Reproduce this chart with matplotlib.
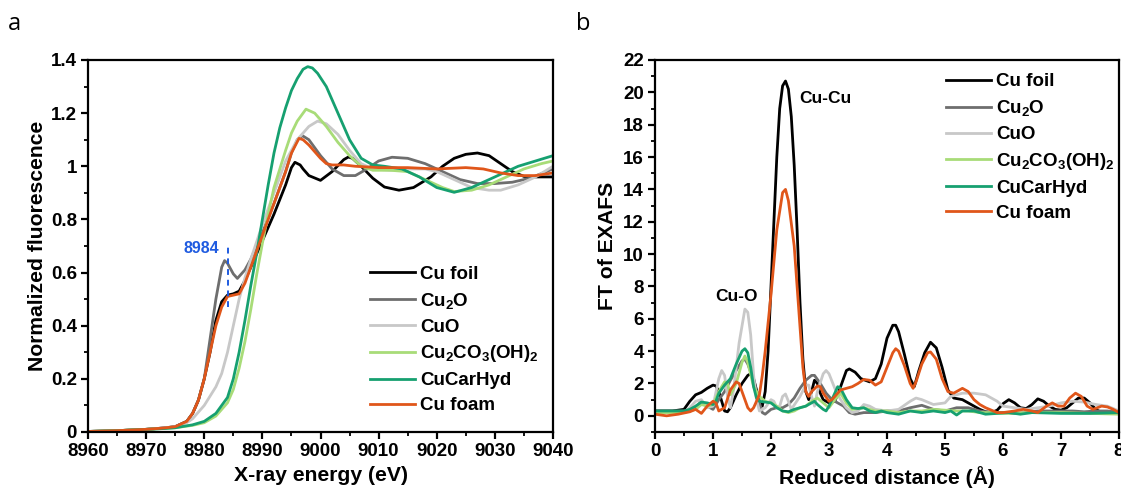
import matplotlib
matplotlib.use("Agg")
import matplotlib.pyplot as plt
from matplotlib.ticker import MultipleLocator, FuncFormatter

plt.rcParams["font.family"] = ["Liberation Sans", "DejaVu Sans"]
plt.rcParams["font.weight"] = "bold"
plt.rcParams["mathtext.fontset"] = "custom"
plt.rcParams["mathtext.rm"] = "Liberation Sans:bold"
plt.rcParams["mathtext.bf"] = "Liberation Sans:bold"
plt.rcParams["mathtext.it"] = "Liberation Sans:bold"
plt.rcParams["mathtext.default"] = "bf"

# ---------------- XANES (panel a) ----------------
series_names = ["Cu foil", "Cu$_2$O", "CuO", "Cu$_2$CO$_3$(OH)$_2$", "CuCarHyd", "Cu foam"]
series_colors = ["#000000", "#6e6e6e", "#c8c8c8", "#a8dc78", "#16a070", "#e0561a"]

foil_E = [8960, 8965, 8970, 8973, 8975, 8977, 8978, 8979, 8980, 8981, 8982, 8983, 8984, 8985,
          8986, 8987, 8988, 8990, 8992, 8994, 8995, 8995.6, 8996.5, 8997, 8998, 9000, 9002,
          9004, 9004.8, 9005.5, 9007, 9009, 9011, 9013.5, 9016, 9019, 9021, 9023, 9025,
          9027, 9029, 9031, 9033, 9035, 9037, 9040]
foil_mu = [0.002, 0.005, 0.01, 0.015, 0.02, 0.04, 0.07, 0.12, 0.2, 0.3, 0.42, 0.49, 0.515, 0.52,
           0.53, 0.57, 0.62, 0.72, 0.82, 0.93, 0.995, 1.015, 1.005, 0.99, 0.965, 0.947, 0.98,
           1.025, 1.035, 1.03, 1.0, 0.955, 0.922, 0.91, 0.92, 0.96, 1.0, 1.03, 1.045,
           1.05, 1.04, 1.01, 0.98, 0.962, 0.96, 0.96]

cu2o_E = [8960, 8965, 8970, 8973, 8975, 8977, 8978, 8979, 8980, 8981, 8982, 8983, 8983.5, 8984,
          8985, 8985.7, 8987, 8988, 8990, 8992, 8994, 8995, 8996, 8996.9, 8998, 9000, 9002,
          9004, 9006, 9008, 9010, 9012.3, 9015, 9018, 9021, 9024, 9027, 9030, 9033, 9036, 9040]
cu2o_mu = [0.002, 0.005, 0.01, 0.015, 0.02, 0.04, 0.07, 0.12, 0.2, 0.35, 0.5, 0.62, 0.645, 0.635,
           0.595, 0.578, 0.61, 0.65, 0.75, 0.86, 0.98, 1.05, 1.1, 1.115, 1.1, 1.04, 0.99,
           0.965, 0.965, 0.99, 1.02, 1.034, 1.03, 1.01, 0.98, 0.95, 0.935, 0.935, 0.94, 0.955, 0.99]

cuo_E = [8960, 8965, 8970, 8973, 8975, 8977, 8978, 8980, 8982, 8983, 8984, 8985, 8986, 8987,
         8988, 8990, 8992, 8994, 8996, 8998, 8999.5, 9001, 9003, 9005, 9007, 9009, 9012,
         9015, 9018, 9020, 9023, 9026, 9029, 9031, 9034, 9037, 9040]
cuo_mu = [0.002, 0.005, 0.01, 0.015, 0.02, 0.035, 0.05, 0.1, 0.17, 0.22, 0.3, 0.4, 0.5, 0.58,
          0.65, 0.78, 0.9, 1.02, 1.1, 1.15, 1.17, 1.16, 1.12, 1.06, 1.01, 0.99, 0.985,
          0.99, 0.99, 0.98, 0.95, 0.92, 0.91, 0.91, 0.93, 0.96, 1.0]

carb_E = [8960, 8965, 8970, 8973, 8975, 8978, 8980, 8982, 8984, 8985, 8986, 8987, 8988, 8989,
          8990, 8991, 8992, 8994, 8995, 8996, 8997.5, 8999, 9001, 9003, 9005, 9007, 9009, 9012,
          9015, 9018, 9021, 9023, 9026, 9029, 9032, 9035, 9038, 9040]
carb_mu = [0.002, 0.005, 0.01, 0.013, 0.016, 0.025, 0.035, 0.06, 0.11, 0.16, 0.24, 0.34, 0.46, 0.59,
           0.71, 0.82, 0.92, 1.06, 1.125, 1.17, 1.215, 1.2, 1.15, 1.09, 1.04, 1.0, 0.985, 0.985,
           0.98, 0.95, 0.92, 0.905, 0.91, 0.93, 0.96, 0.99, 1.01, 1.02]

hyd_E = [8960, 8965, 8970, 8973, 8975, 8978, 8980, 8982, 8984, 8985, 8986, 8987, 8988, 8989,
         8990, 8991, 8992, 8993, 8994, 8995, 8996, 8997, 8997.8, 8998.6, 8999.5, 9001, 9003,
         9005, 9007, 9009, 9011, 9014, 9017, 9020, 9023, 9026, 9030, 9034, 9037, 9040]
hyd_mu = [0.002, 0.005, 0.01, 0.013, 0.016, 0.027, 0.04, 0.07, 0.13, 0.2, 0.3, 0.42, 0.55, 0.67,
          0.8, 0.93, 1.05, 1.145, 1.22, 1.285, 1.33, 1.365, 1.375, 1.37, 1.35, 1.3, 1.2,
          1.1, 1.03, 1.005, 1.0, 0.99, 0.96, 0.92, 0.902, 0.92, 0.96, 1.0, 1.02, 1.04]

foam_E = [8960, 8965, 8970, 8973, 8975, 8977, 8978, 8979, 8980, 8981, 8982, 8983, 8984, 8985,
          8986, 8987, 8988, 8990, 8992, 8994, 8995, 8996.3, 8997, 8998, 9000, 9001, 9002, 9004,
          9006, 9010, 9015, 9020, 9025, 9028, 9031, 9034, 9037, 9040]
foam_mu = [0.002, 0.005, 0.01, 0.015, 0.02, 0.04, 0.07, 0.12, 0.2, 0.3, 0.4, 0.47, 0.51, 0.515,
           0.52, 0.56, 0.62, 0.74, 0.86, 0.98, 1.05, 1.105, 1.1, 1.08, 1.03, 1.01, 1.005, 1.005,
           1.0, 0.995, 0.995, 0.99, 0.995, 0.99, 0.975, 0.965, 0.965, 0.975]

xanes = [(foil_E, foil_mu), (cu2o_E, cu2o_mu), (cuo_E, cuo_mu),
         (carb_E, carb_mu), (hyd_E, hyd_mu), (foam_E, foam_mu)]

edge_energy = 8984

# ---------------- EXAFS FT (panel b) ----------------
foil_R = [0, 0.3, 0.5, 0.6, 0.7, 0.8, 0.9, 1.0, 1.05, 1.1, 1.15, 1.2, 1.25, 1.3, 1.4, 1.5, 1.6,
          1.65, 1.7, 1.75, 1.8, 1.85, 1.9, 1.95, 2.0, 2.05, 2.1, 2.15, 2.2, 2.25, 2.3, 2.35,
          2.4, 2.45, 2.5, 2.55, 2.6, 2.65, 2.7, 2.75, 2.8, 2.85, 2.9, 3.0, 3.1, 3.2, 3.3,
          3.35, 3.45, 3.55, 3.7, 3.8, 3.9, 4.0, 4.1, 4.15, 4.2, 4.3, 4.4, 4.47, 4.55, 4.65,
          4.75, 4.85, 4.95, 5.05, 5.15, 5.3, 5.4, 5.5, 5.6, 5.7, 5.8, 5.9, 6.0, 6.1, 6.2,
          6.3, 6.4, 6.5, 6.6, 6.7, 6.8, 6.9, 7.0, 7.1, 7.2, 7.3, 7.4, 7.5, 7.6, 7.7, 7.8, 8.0]
foil_ft = [0.3, 0.3, 0.4, 0.9, 1.3, 1.45, 1.7, 1.9, 1.85, 1.5, 0.9, 0.3, 0.25, 0.5, 1.3, 2.0, 2.5,
           2.6, 2.3, 1.6, 0.9, 0.6, 1.5, 4.0, 8.0, 12.0, 16.0, 19.0, 20.4, 20.7, 20.2, 18.5,
           15.5, 11.5, 7.0, 3.5, 1.5, 1.0, 1.5, 2.2, 2.0, 1.4, 1.0, 0.8, 0.9, 1.8, 2.8,
           2.9, 2.7, 2.3, 2.1, 2.3, 3.2, 4.8, 5.6, 5.6, 5.2, 3.8, 2.3, 1.8, 2.8, 3.9,
           4.55, 4.2, 3.0, 1.6, 1.1, 1.0, 0.8, 0.6, 0.4, 0.25, 0.2, 0.35, 0.75, 1.0, 0.8,
           0.5, 0.45, 0.7, 1.05, 0.9, 0.6, 0.4, 0.35, 0.5, 0.8, 1.1, 1.1, 0.8, 0.4, 0.2, 0.2, 0.3]

cu2o_R = [0, 0.5, 0.7, 0.8, 0.9, 1.0, 1.1, 1.2, 1.3, 1.4, 1.5, 1.55, 1.6, 1.7, 1.8, 1.85, 1.9,
          2.0, 2.1, 2.2, 2.3, 2.4, 2.5, 2.6, 2.7, 2.75, 2.85, 2.95, 3.05, 3.15, 3.25, 3.35,
          3.45, 3.6, 3.8, 4.0, 4.2, 4.4, 4.6, 4.8, 5.0, 5.2, 5.4, 5.6, 5.8, 6.0, 6.2, 6.4,
          6.6, 6.8, 7.0, 7.2, 7.4, 7.6, 7.8, 8.0]
cu2o_ft = [0.3, 0.3, 0.5, 0.9, 0.6, 0.4, 1.0, 1.5, 2.2, 2.8, 3.4, 3.5, 3.2, 2.2, 0.8, 0.2, 0.1,
           0.4, 0.5, 0.5, 0.7, 1.1, 1.7, 2.2, 2.5, 2.5, 2.0, 1.4, 1.0, 0.8, 0.6, 0.2,
           0.1, 0.2, 0.2, 0.3, 0.3, 0.5, 0.65, 0.4, 0.3, 0.5, 0.5, 0.3, 0.2, 0.2, 0.15, 0.2,
           0.3, 0.3, 0.3, 0.3, 0.25, 0.3, 0.3, 0.2]

cuo_R = [0, 0.5, 0.6, 0.7, 0.8, 0.9, 1.0, 1.1, 1.15, 1.2, 1.25, 1.3, 1.35, 1.45, 1.55, 1.6,
         1.65, 1.7, 1.75, 1.8, 1.9, 2.0, 2.05, 2.1, 2.15, 2.2, 2.25, 2.3, 2.35, 2.5, 2.6,
         2.65, 2.7, 2.75, 2.8, 2.9, 2.95, 3.0, 3.1, 3.2, 3.3, 3.4, 3.5, 3.6, 3.7, 3.8, 4.0,
         4.2, 4.4, 4.5, 4.6, 4.8, 5.0, 5.1, 5.3, 5.5, 5.7, 5.9, 6.0, 6.2, 6.4, 6.6, 6.8,
         7.0, 7.2, 7.4, 7.6, 7.8, 8.0]
cuo_ft = [0.2, 0.2, 0.5, 0.9, 1.0, 0.5, 0.6, 2.3, 2.8, 2.5, 1.2, 0.5, 1.5, 4.5, 6.6, 6.4,
          5.0, 2.5, 1.0, 0.3, 0.5, 1.0, 0.9, 0.5, 0.6, 1.2, 1.35, 0.9, 0.4, 1.2, 1.9,
          1.9, 1.2, 0.6, 1.5, 2.6, 2.8, 2.6, 1.7, 1.0, 0.5, 0.2, 0.3, 0.7, 0.6, 0.4, 0.3,
          0.4, 0.9, 1.1, 1.0, 0.7, 0.8, 1.2, 1.4, 1.4, 1.3, 0.9, 0.6, 0.5, 0.4, 0.5, 0.6,
          0.8, 0.9, 0.85, 0.7, 0.6, 0.3]

carb_R = [0, 0.5, 0.7, 0.8, 0.9, 1.0, 1.1, 1.2, 1.25, 1.3, 1.4, 1.5, 1.55, 1.6, 1.7, 1.8, 1.9,
          2.0, 2.1, 2.2, 2.3, 2.4, 2.5, 2.6, 2.7, 2.8, 2.9, 3.0, 3.1, 3.2, 3.3, 3.4, 3.6,
          3.8, 4.0, 4.2, 4.4, 4.6, 4.8, 5.0, 5.2, 5.4, 5.6, 5.8, 6.0, 6.5, 7.0, 7.5, 8.0]
carb_ft = [0.2, 0.2, 0.4, 0.7, 0.6, 0.7, 1.5, 2.1, 2.0, 1.3, 2.0, 3.3, 3.7, 3.3, 1.8, 1.2, 0.9,
           0.8, 0.6, 0.3, 0.2, 0.3, 0.5, 0.6, 0.9, 1.1, 0.8, 0.5, 1.0, 1.4, 0.8, 0.4, 0.5,
           0.3, 0.3, 0.2, 0.3, 0.3, 0.4, 0.35, 0.3, 0.3, 0.2, 0.2, 0.15, 0.2, 0.2, 0.15, 0.1]

hyd_R = [0, 0.5, 0.6, 0.7, 0.8, 0.9, 1.0, 1.05, 1.1, 1.2, 1.3, 1.4, 1.5, 1.55, 1.6, 1.65, 1.7,
         1.75, 1.8, 1.9, 2.0, 2.1, 2.2, 2.3, 2.4, 2.5, 2.6, 2.7, 2.75, 2.8, 2.9, 2.95, 3.0,
         3.1, 3.15, 3.2, 3.3, 3.4, 3.5, 3.6, 3.7, 3.8, 3.9, 4.0, 4.2, 4.4, 4.6, 4.8, 5.0,
         5.1, 5.2, 5.3, 5.5, 5.7, 5.9, 6.1, 6.3, 6.5, 7.0, 7.5, 8.0]
hyd_ft = [0.3, 0.3, 0.4, 0.6, 0.85, 0.8, 0.7, 0.9, 1.4, 1.9, 2.3, 3.2, 4.0, 4.15, 3.9, 3.0, 1.8,
          1.1, 0.9, 0.85, 0.8, 0.5, 0.3, 0.25, 0.4, 0.5, 0.6, 0.8, 0.9, 0.7, 0.4, 0.3, 0.6,
          1.4, 1.8, 1.7, 1.0, 0.5, 0.45, 0.5, 0.3, 0.2, 0.3, 0.2, 0.1, 0.3, 0.2, 0.3, 0.2,
          0.3, 0.05, 0.3, 0.3, 0.1, 0.15, 0.2, 0.1, 0.2, 0.15, 0.15, 0.2]

foam_R = [0, 0.2, 0.4, 0.6, 0.7, 0.8, 0.9, 1.0, 1.05, 1.1, 1.2, 1.3, 1.4, 1.45, 1.5, 1.6, 1.65,
          1.7, 1.8, 1.85, 1.9, 2.0, 2.1, 2.2, 2.25, 2.3, 2.4, 2.5, 2.55, 2.6, 2.65, 2.7, 2.8,
          2.85, 2.9, 3.0, 3.05, 3.1, 3.2, 3.3, 3.4, 3.5, 3.6, 3.7, 3.8, 3.9, 4.0, 4.1, 4.15,
          4.2, 4.3, 4.4, 4.45, 4.5, 4.6, 4.7, 4.75, 4.85, 4.95, 5.05, 5.15, 5.3, 5.4, 5.5,
          5.6, 5.7, 5.8, 5.9, 6.0, 6.2, 6.35, 6.5, 6.6, 6.75, 6.85, 6.95, 7.05, 7.15, 7.25,
          7.35, 7.45, 7.55, 7.7, 7.8, 7.9, 8.0]
foam_ft = [0.1, 0.0, 0.1, 0.25, 0.4, 0.15, 0.6, 0.9, 0.8, 0.3, 0.5, 1.6, 2.1, 2.0, 1.5, 0.5, 0.3,
           0.5, 1.3, 2.5, 4.0, 7.5, 11.5, 13.8, 14.0, 13.3, 10.5, 5.5, 3.0, 1.5, 1.2, 1.5, 1.85,
           1.8, 1.4, 0.9, 1.0, 1.2, 1.6, 1.7, 1.8, 2.0, 2.25, 2.2, 1.9, 2.1, 3.0, 3.9, 4.15,
           4.0, 3.1, 2.0, 1.7, 2.1, 3.2, 3.9, 3.95, 3.5, 2.3, 1.5, 1.4, 1.7, 1.5, 1.0,
           0.7, 0.5, 0.35, 0.2, 0.2, 0.3, 0.4, 0.3, 0.2, 0.6, 0.8, 0.6, 0.6, 1.1, 1.4,
           1.2, 0.6, 0.4, 0.6, 0.55, 0.4, 0.2]

exafs = [(foil_R, foil_ft), (cu2o_R, cu2o_ft), (cuo_R, cuo_ft),
         (carb_R, carb_ft), (hyd_R, hyd_ft), (foam_R, foam_ft)]

# ---------------- figure ----------------
W, H = 1121, 492
fig = plt.figure(figsize=(W / 100, H / 100), dpi=100)
ax_a = fig.add_axes([88 / W, 60 / H, 465 / W, 372 / H])
ax_b = fig.add_axes([655 / W, 60 / H, 464 / W, 372 / H])

TICK_FS = 13.5
LABEL_FS = 15.2
LEGEND_FS = 13.5
LEGEND_KW = dict(frameon=False, fontsize=LEGEND_FS, handlelength=2.4, handletextpad=0.3,
                 labelspacing=0.42, borderaxespad=0.3)


def style_axes(ax):
    for s in ax.spines.values():
        s.set_linewidth(1.6)
    ax.tick_params(which="major", direction="out", length=5, width=1.6,
                   labelsize=TICK_FS, pad=3)
    ax.tick_params(which="minor", direction="out", length=3, width=1.3)
    ax.tick_params(top=False, right=False)


def num_fmt(v, pos):
    return f"{v:g}"


lw = 2.0
for (x, y), name, c in zip(xanes, series_names, series_colors):
    ax_a.plot(x, y, color=c, lw=lw, label=name, solid_joinstyle="round")
ax_a.plot([edge_energy, edge_energy], [0.47, 0.71], ls=(0, (3, 2.5)), color="#1f5be0", lw=1.4)
ax_a.text(edge_energy - 1.5, 0.69, str(edge_energy), color="#1f5be0", fontsize=11.5,
          ha="right", va="center", fontweight="bold")
ax_a.set_xlim(8960, 9040)
ax_a.set_ylim(0, 1.4)
ax_a.xaxis.set_major_locator(MultipleLocator(10))
ax_a.xaxis.set_minor_locator(MultipleLocator(5))
ax_a.yaxis.set_major_locator(MultipleLocator(0.2))
ax_a.yaxis.set_minor_locator(MultipleLocator(0.1))
ax_a.yaxis.set_major_formatter(FuncFormatter(num_fmt))
ax_a.set_xlabel("X-ray energy (eV)", fontsize=LABEL_FS, fontweight="bold", labelpad=4)
ax_a.set_ylabel("Normalized fluorescence", fontsize=LABEL_FS, fontweight="bold", labelpad=3)
style_axes(ax_a)
ax_a.legend(loc="lower right", bbox_to_anchor=(0.998, 0.012), **LEGEND_KW)

for (x, y), name, c in zip(exafs, series_names, series_colors):
    ax_b.plot(x, y, color=c, lw=lw, label=name, solid_joinstyle="round")
ax_b.text(2.93, 19.6, "Cu-Cu", fontsize=12.5, ha="center", va="center", fontweight="bold")
ax_b.text(1.4, 7.4, "Cu-O", fontsize=12.5, ha="center", va="center", fontweight="bold")
ax_b.set_xlim(0, 8)
ax_b.set_ylim(-1, 22)
ax_b.xaxis.set_major_locator(MultipleLocator(1))
ax_b.xaxis.set_minor_locator(MultipleLocator(0.5))
ax_b.yaxis.set_major_locator(MultipleLocator(2))
ax_b.yaxis.set_minor_locator(MultipleLocator(1))
ax_b.set_xlabel("Reduced distance (Å)", fontsize=LABEL_FS, fontweight="bold", labelpad=4)
ax_b.set_ylabel("FT of EXAFS", fontsize=LABEL_FS, fontweight="bold", labelpad=4)
style_axes(ax_b)
ax_b.legend(loc="upper right", bbox_to_anchor=(1.02, 1.0), **LEGEND_KW)

fig.text(8 / W, 1 - 24 / H, "a", fontsize=17, fontweight="normal", family="Open Sans",
         va="center", ha="left")
fig.text(576 / W, 1 - 24 / H, "b", fontsize=17, fontweight="normal", family="Open Sans",
         va="center", ha="left")

fig.savefig("out.png", dpi=100)
